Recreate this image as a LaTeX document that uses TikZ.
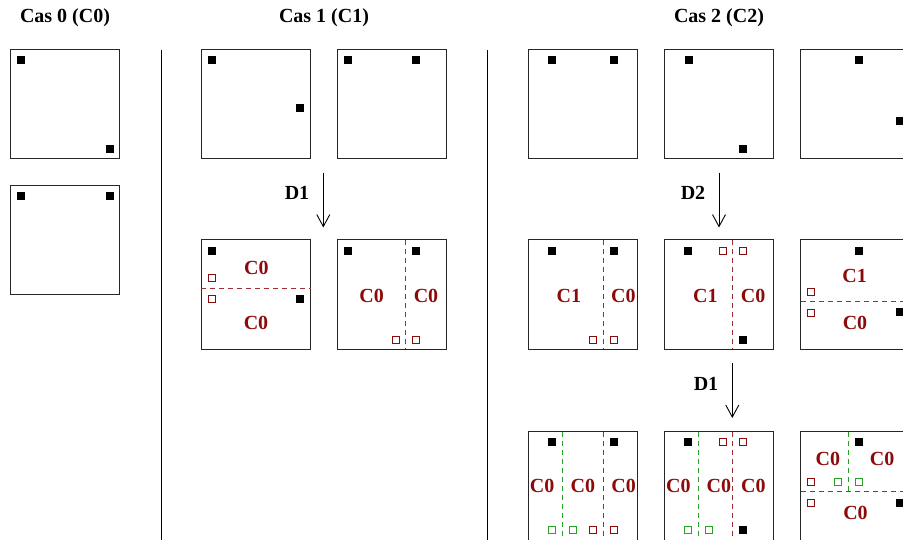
\documentclass[tikz,border=0pt]{standalone}
\usepackage{fontspec}
\setmainfont{Liberation Serif}
\usetikzlibrary{arrows.meta}
\definecolor{dred}{RGB}{140,10,10}
\definecolor{dgreen}{RGB}{40,160,40}
\tikzset{
  box/.style={draw=black!85, line width=1pt, minimum width=109pt, minimum height=109pt, inner sep=0pt},
  blk/.style={fill=black, minimum size=8pt, inner sep=0pt},
  holr/.style={draw=dred, line width=0.8pt, minimum size=7pt, inner sep=0pt},
  holg/.style={draw=dgreen, line width=0.8pt, minimum size=7pt, inner sep=0pt},
  lab/.style={text=dred, font=\bfseries\fontsize{20}{24}\selectfont, inner sep=0pt, anchor=base},
  ttl/.style={font=\bfseries\fontsize{20}{24}\selectfont, inner sep=0pt, anchor=base},
  rdash/.style={draw=dred!85, dash pattern=on 5pt off 4pt, line width=0.9pt},
  gdash/.style={draw=dgreen, dash pattern=on 5pt off 4pt, line width=0.9pt},
  sepline/.style={line width=1pt},
  arr/.style={-{Straight Barb[length=12pt,width=13pt]}, line width=0.9pt}
}
\begin{document}
\begin{tikzpicture}[x=1pt,y=-1pt]
\useasboundingbox (0,0) rectangle (903,540);
\clip (0,0) rectangle (903,540);
% titles
\node[ttl] (t0) at (65,23) {Cas 0 (C0)};
\node[ttl] (t1) at (324,23) {Cas 1 (C1)};
\node[ttl] (t2) at (719,23) {Cas 2 (C2)};
% separators
\coordinate (s1a) at (161.5,50); \coordinate (s1b) at (161.5,540);
\coordinate (s2a) at (487.5,50); \coordinate (s2b) at (487.5,540);
\draw[sepline] (s1a) -- (s1b);
\draw[sepline] (s2a) -- (s2b);
% Cas 0
\node[box] (a1) at (65,104.5) {};
\node[blk] (a1p) at (21,60.5) {}; \node[blk] (a1q) at (109.5,149) {};
\node[box] (a2) at (65,240.5) {};
\node[blk] (a2p) at (21,196.5) {}; \node[blk] (a2q) at (109.5,196.5) {};
% Cas 1 row 1
\node[box] (b1) at (256,104.5) {};
\node[blk] (b1p) at (212,60.5) {}; \node[blk] (b1q) at (300,108) {};
\node[box] (b2) at (392,104.5) {};
\node[blk] (b2p) at (347.7,60.5) {}; \node[blk] (b2q) at (416,60.5) {};
% arrow D1
\coordinate (ar1a) at (323.3,172.7); \coordinate (ar1b) at (323.3,227.5);
\draw[arr] (ar1a) -- (ar1b);
\node[ttl] (d1) at (297,199.5) {D1};
% Cas 1 row 2
\node[box] (c1) at (256,294.5) {};
\draw[rdash] (201,288.3) -- (311,288.3);
\node[blk] (c1p) at (212,251) {}; \node[blk] (c1q) at (300.3,299) {};
\node[holr] (c1r) at (211.5,278) {}; \node[holr] (c1s) at (211.5,299) {};
\node[lab] (c1l) at (256.3,275) {C0}; \node[lab] (c1m) at (256,330) {C0};
\node[box] (c2) at (392,294.5) {};
\draw[rdash] (405.3,240) -- (405.3,349);
\node[blk] (c2p) at (348,251) {}; \node[blk] (c2q) at (416,251) {};
\node[holr] (c2r) at (395.5,339.5) {}; \node[holr] (c2s) at (416,339.5) {};
\node[lab] (c2l) at (371.7,302.7) {C0}; \node[lab] (c2m) at (426,302.7) {C0};
% Cas 2 row 1
\node[box] (d1b) at (583,104.5) {};
\node[blk] (d1p) at (552,60.5) {}; \node[blk] (d1q) at (613.7,60.5) {};
\node[box] (d2b) at (719,104.5) {};
\node[blk] (d2p) at (688.5,60.5) {}; \node[blk] (d2q) at (743,149) {};
\node[box] (d3b) at (855,104.5) {};
\node[blk] (d3p) at (859,60.5) {}; \node[blk] (d3q) at (899.5,121.3) {};
% arrow D2
\coordinate (ar2a) at (719,172.7); \coordinate (ar2b) at (719,227.5);
\draw[arr] (ar2a) -- (ar2b);
\node[ttl] (d2) at (693,199.5) {D2};
% Cas 2 row 2
\node[box] (e1) at (583,294.5) {};
\draw[rdash] (603.3,240) -- (603.3,349);
\node[blk] (e1p) at (552,251) {}; \node[blk] (e1q) at (613.7,251) {};
\node[holr] (e1r) at (593,339.5) {}; \node[holr] (e1s) at (613.7,339.5) {};
\node[lab] (e1l) at (568.8,302.7) {C1}; \node[lab] (e1m) at (623.3,302.7) {C0};
\node[box] (e2) at (719,294.5) {};
\draw[rdash] (732.3,240) -- (732.3,349);
\node[blk] (e2p) at (688.3,251) {}; \node[blk] (e2q) at (743,339.7) {};
\node[holr] (e2r) at (722.7,251) {}; \node[holr] (e2s) at (743,251) {};
\node[lab] (e2l) at (705.3,302.7) {C1}; \node[lab] (e2m) at (753.2,302.7) {C0};
\node[box] (e3) at (855,294.5) {};
\draw[rdash] (801,301.7) -- (910,301.7);
\node[blk] (e3p) at (859,251) {}; \node[blk] (e3q) at (900,312.5) {};
\node[holr] (e3r) at (811,292) {}; \node[holr] (e3s) at (811,312.5) {};
\node[lab] (e3l) at (854.7,282.3) {C1}; \node[lab] (e3m) at (855,329.3) {C0};
% arrow D1 (second)
\coordinate (ar3a) at (732.3,363); \coordinate (ar3b) at (732.3,418);
\draw[arr] (ar3a) -- (ar3b);
\node[ttl] (d3) at (706,390) {D1};
% Cas 2 row 3
\node[box] (f1) at (583,486) {};
\draw[gdash] (562.3,431.5) -- (562.3,541);
\draw[rdash] (603.3,431.5) -- (603.3,541);
\node[blk] (f1p) at (552,441.7) {}; \node[blk] (f1q) at (613.7,441.7) {};
\node[holg] (f1g) at (552,529.7) {}; \node[holg] (f1h) at (572.5,529.7) {};
\node[holr] (f1r) at (593,529.7) {}; \node[holr] (f1s) at (613.7,529.7) {};
\node[lab] (f1l) at (542.2,492.7) {C0}; \node[lab] (f1m) at (582.8,492.7) {C0}; \node[lab] (f1n) at (623.7,492.7) {C0};
\node[box] (f2) at (719,486) {};
\draw[gdash] (698.7,431.5) -- (698.7,541);
\draw[rdash] (732.3,431.5) -- (732.3,541);
\node[blk] (f2p) at (688.3,441.7) {}; \node[blk] (f2q) at (743,530) {};
\node[holr] (f2r) at (722.7,441.7) {}; \node[holr] (f2s) at (743,441.7) {};
\node[holg] (f2g) at (688.3,529.7) {}; \node[holg] (f2h) at (709,529.7) {};
\node[lab] (f2l) at (678.3,492.7) {C0}; \node[lab] (f2m) at (718.8,492.7) {C0}; \node[lab] (f2n) at (753.3,492.7) {C0};
\node[box] (f3) at (855,486) {};
\draw[gdash] (848.7,431.5) -- (848.7,491.7);
\draw[rdash] (801,491.7) -- (910,491.7);
\node[blk] (f3p) at (859,441.7) {}; \node[blk] (f3q) at (900,502.5) {};
\node[holr] (f3r) at (811,482.3) {}; \node[holr] (f3s) at (811,502.7) {};
\node[holg] (f3g) at (838.3,482.3) {}; \node[holg] (f3h) at (859,482.3) {};
\node[lab] (f3l) at (827.8,465.7) {C0}; \node[lab] (f3m) at (882.2,465.7) {C0}; \node[lab] (f3n) at (855.5,519) {C0};
\end{tikzpicture}
\end{document}
